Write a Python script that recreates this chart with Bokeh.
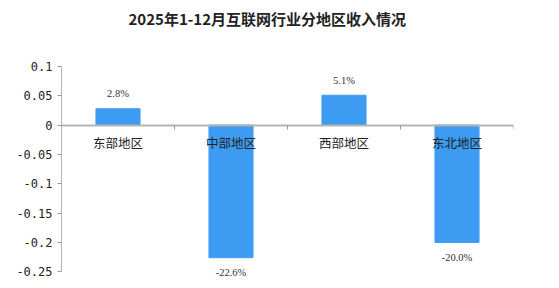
from bokeh.plotting import figure
from bokeh.models import ColumnDataSource, FixedTicker, LabelSet, Title
from bokeh.embed import file_html
from bokeh.resources import INLINE

title_text = "2025年1-12月互联网行业分地区收入情况"
categories = ["东部地区", "中部地区", "西部地区", "东北地区"]
values = [0.028, -0.226, 0.051, -0.200]
value_labels = ["2.8%", "-22.6%", "5.1%", "-20.0%"]
y_ticks = [0.1, 0.05, 0, -0.05, -0.1, -0.15, -0.2, -0.25]
y_tick_labels = ["0.1", "0.05", "0", "-0.05", "-0.1", "-0.15", "-0.2", "-0.25"]

xs = [i + 0.5 for i in range(len(categories))]
src = ColumnDataSource(dict(
    x=xs, top=values, lab=value_labels,
    off=[15 if v >= 0 else -15 for v in values],
))

p = figure(width=559, height=288, output_backend="svg", toolbar_location=None,
           x_range=(0, len(categories)), y_range=(-0.27, 0.1),
           min_border_left=61, min_border_right=46, min_border_top=0,
           min_border_bottom=5, outline_line_color=None)
p.grid.visible = False
p.background_fill_color = "white"

# spacer between title and frame, then the title itself
p.add_layout(Title(text=" ", text_font_size="19px"), "above")
p.add_layout(Title(text=title_text, align="left", offset=67,
                   text_font="Noto Sans CJK SC", text_font_size="15px",
                   text_font_style="bold", text_color="#222222"), "above")

p.vbar(x="x", top="top", bottom=0, width=0.39, source=src,
       fill_color="#3d9cf2", line_color="#3d9cf2")

# x axis at y=0
xa = p.xaxis[0]
xa.fixed_location = 0
xa.ticker = FixedTicker(ticks=xs, minor_ticks=list(range(len(categories) + 1)))
xa.major_label_overrides = {x: c for x, c in zip(xs, categories)}
xa.major_tick_out = 0
xa.major_tick_in = 0
xa.minor_tick_out = 4
xa.minor_tick_in = 0
xa.axis_line_color = "#b3b3b3"
xa.axis_line_width = 2
xa.minor_tick_line_color = "#999999"
xa.major_label_text_font = "Noto Sans CJK SC"
xa.major_label_text_font_size = "12.5px"
xa.major_label_text_color = "#222222"
xa.major_label_standoff = 4

ya = p.yaxis[0]
ya.bounds = (-0.25, 0.1)
ya.ticker = FixedTicker(ticks=y_ticks)
ya.major_label_overrides = {t: l for t, l in zip(y_ticks, y_tick_labels)}
ya.major_tick_out = 4
ya.major_tick_in = 0
ya.axis_line_color = "#b3b3b3"
ya.major_tick_line_color = "#999999"
ya.minor_tick_line_color = None
ya.major_label_text_font = "DejaVu Sans Mono"
ya.major_label_text_font_size = "12px"
ya.major_label_text_color = "#222222"
ya.major_label_standoff = 5

labels = LabelSet(x="x", y="top", text="lab", source=src, y_offset="off",
                  text_align="center", text_baseline="middle",
                  text_font="DejaVu Sans Mono", text_font_size="10.5px",
                  text_color="#333333")
p.add_layout(labels)

open("out.html", "w").write(file_html(p, INLINE))
